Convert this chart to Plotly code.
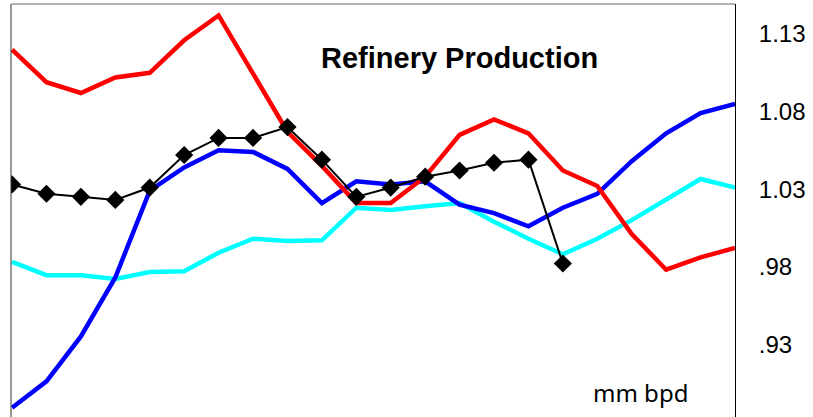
import plotly.graph_objects as go

periods = list(range(22))
red_series = [1.120, 1.099, 1.092, 1.102, 1.105, 1.126, 1.142, 1.104, 1.067, 1.045, 1.021,
              1.021, 1.038, 1.065, 1.075, 1.066, 1.042, 1.032, 1.001, 0.978, 0.986, 0.992]
blue_series = [0.889, 0.906, 0.935, 0.973, 1.029, 1.044, 1.055, 1.054, 1.043, 1.021, 1.035,
               1.033, 1.035, 1.020, 1.0145, 1.006, 1.018, 1.027, 1.048, 1.066, 1.079, 1.085]
cyan_series = [0.983, 0.9745, 0.9745, 0.972, 0.9765, 0.977, 0.989, 0.998, 0.9965, 0.997, 1.018,
               1.0165, 1.019, 1.021, 1.009, 0.998, 0.988, 0.998, 1.010, 1.0235, 1.0365, 1.031]
black_series = [1.033, 1.027, 1.025, 1.023, 1.031, 1.052, 1.063, 1.063, 1.070, 1.049, 1.025,
                1.031, 1.038, 1.042, 1.047, 1.049, 0.982]
tick_values = [0.93, 0.98, 1.03, 1.08, 1.13]
tick_labels = [".93", ".98", "1.03", "1.08", "1.13"]
title_text = "Refinery Production"
unit_text = "mm bpd"

fig = go.Figure()
fig.add_trace(go.Scatter(x=periods, y=cyan_series, mode="lines",
                         line=dict(color="#00FFFF", width=4.5), showlegend=False))
fig.add_trace(go.Scatter(x=periods, y=blue_series, mode="lines",
                         line=dict(color="#0000FF", width=4.5), showlegend=False))
fig.add_trace(go.Scatter(x=periods, y=red_series, mode="lines",
                         line=dict(color="#FF0000", width=4.5), showlegend=False))
fig.add_trace(go.Scatter(x=periods[:len(black_series)], y=black_series, mode="lines+markers",
                         line=dict(color="#000000", width=2),
                         marker=dict(symbol="diamond", size=14, color="#000000"),
                         showlegend=False))

fig.update_layout(
    width=813, height=417,
    margin=dict(l=11, r=78, t=4, b=0),
    paper_bgcolor="white", plot_bgcolor="white",
    hovermode=False,
    xaxis=dict(range=[-0.03, 21.0], showgrid=False, zeroline=False,
               showticklabels=False, ticks=""),
    yaxis=dict(range=[0.883, 1.1494], side="right", showgrid=False, zeroline=False,
               tickvals=tick_values, ticktext=tick_labels, ticks="",
               ticklabelstandoff=18, automargin=False,
               showline=True, linecolor="#000000", linewidth=1,
               tickfont=dict(family="Liberation Sans, Arial", size=24, color="#000000")),
    shapes=[
        dict(type="line", xref="paper", yref="paper", x0=0, x1=0, y0=0, y1=1,
             line=dict(color="#333333", width=1)),
        dict(type="line", xref="paper", yref="paper", x0=0, x1=1, y0=1, y1=1,
             line=dict(color="#666666", width=1)),
    ],
    annotations=[
        dict(text="<b>" + title_text + "</b>", xref="paper", yref="paper",
             x=(459 - 11) / 724, y=(417 - 58) / 413, showarrow=False,
             xanchor="center", yanchor="middle",
             font=dict(family="Liberation Sans, Arial", size=29, color="#000000")),
        dict(text=unit_text, xref="paper", yref="paper",
             x=(640 - 11) / 724, y=(417 - 392) / 413, showarrow=False,
             xanchor="center", yanchor="middle",
             font=dict(family="Noto Sans", size=24, color="#000000")),
    ],
)

fig.write_html("out.html", config={"displayModeBar": False},
               post_script="document.body.style.margin='0';document.body.style.overflow='hidden';")
